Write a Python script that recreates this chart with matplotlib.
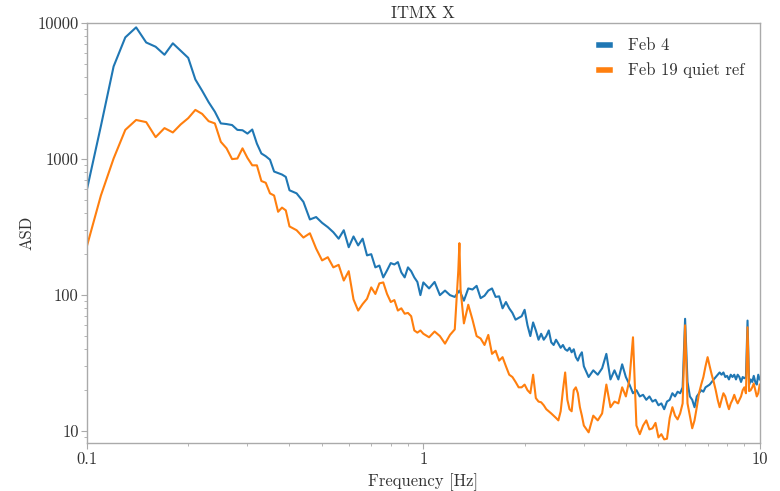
import matplotlib
matplotlib.use("Agg")
import matplotlib.pyplot as plt
from matplotlib.ticker import FixedLocator, FixedFormatter, LogLocator, NullFormatter

# frequency grid [Hz]
freq = [0.10, 0.11, 0.12, 0.13, 0.14, 0.15, 0.16, 0.17, 0.18, 0.19,
        0.20, 0.21, 0.22, 0.23, 0.24, 0.25, 0.26, 0.27, 0.28, 0.29,
        0.30, 0.31, 0.32, 0.33, 0.34, 0.35, 0.36, 0.37, 0.38, 0.39,
        0.40, 0.42, 0.44, 0.46, 0.48, 0.50, 0.52, 0.54, 0.56, 0.58,
        0.60, 0.62, 0.64, 0.66, 0.68, 0.70, 0.72, 0.74, 0.76, 0.78,
        0.80, 0.82, 0.84, 0.86, 0.88, 0.90, 0.92, 0.94, 0.96, 0.98,
        1.00, 1.04, 1.08, 1.12, 1.16, 1.20, 1.24, 1.27, 1.28, 1.29,
        1.32, 1.36, 1.40, 1.44, 1.48, 1.52, 1.56, 1.60, 1.64, 1.68,
        1.72, 1.76, 1.80, 1.84, 1.88, 1.92, 1.96, 2.00, 2.04, 2.08,
        2.12, 2.16, 2.20, 2.24, 2.28, 2.32, 2.36, 2.40, 2.44, 2.48,
        2.52, 2.56, 2.60, 2.64, 2.68, 2.72, 2.76, 2.80, 2.84, 2.88,
        2.92, 2.96, 3.0, 3.1, 3.2, 3.3, 3.4, 3.5, 3.6, 3.7,
        3.8, 3.9, 4.0, 4.1, 4.2, 4.3, 4.4, 4.5, 4.6, 4.7,
        4.8, 4.9, 5.0, 5.1, 5.2, 5.3, 5.4, 5.5, 5.6, 5.7,
        5.8, 5.9, 6.0, 6.1, 6.2, 6.3, 6.4, 6.5, 6.6, 6.7,
        6.8, 6.9, 7.0, 7.1, 7.2, 7.3, 7.4, 7.5, 7.6, 7.7,
        7.8, 7.9, 8.0, 8.1, 8.2, 8.3, 8.4, 8.5, 8.6, 8.7,
        8.8, 8.9, 9.0, 9.1, 9.2, 9.3, 9.4, 9.5, 9.6, 9.7,
        9.8, 9.9, 10.0]

feb4 = [600, 1750, 4800, 7850, 9300, 7200, 6700, 5850, 7100, 6250,
        5550, 3850, 3180, 2620, 2230, 1830, 1810, 1780, 1640, 1630,
        1540, 1650, 1300, 1100, 1050, 990, 810, 790, 770, 740,
        590, 560, 485, 360, 375, 340, 316, 290, 260, 300,
        225, 270, 232, 260, 196, 200, 160, 165, 135, 152,
        172, 168, 175, 147, 135, 160, 150, 135, 125, 100,
        124, 112, 125, 100, 108, 100, 97, 105, 108, 104,
        91, 112, 110, 117, 95, 99, 108, 112, 97, 98,
        80, 89, 80, 74, 66, 68, 70, 78, 60, 50,
        63, 55, 47, 52, 47, 50, 55, 45, 43, 47,
        44, 41, 43, 40, 39, 41, 38, 40, 35, 33,
        36, 38, 30, 25, 28, 26, 29, 37, 24, 28,
        24, 31, 25, 22, 19, 20, 18, 18.5, 17, 18,
        16.5, 17, 15.5, 16, 14.5, 16.5, 17, 19, 18, 19.5,
        19, 21, 67, 23, 18, 17, 15, 18, 19, 20,
        19.5, 21, 21.5, 22, 23, 24, 25, 26, 27, 26,
        27, 25, 25.5, 24, 26, 25, 26, 24, 26, 25,
        23, 25, 24.5, 25, 65, 22, 24, 23, 25.5, 23,
        22, 26, 24]

feb19 = [230, 540, 1010, 1640, 1940, 1870, 1450, 1690, 1570, 1800,
         2000, 2300, 2150, 1900, 1830, 1340, 1200, 1000, 1010, 1200,
         1020, 900, 900, 690, 670, 560, 540, 410, 440, 420,
         320, 300, 265, 285, 220, 180, 190, 160, 167, 128,
         150, 93, 77, 86, 94, 114, 102, 122, 124, 102,
         89, 92, 77, 80, 73, 74, 70, 55, 53, 55,
         52, 49, 54, 50, 44, 51, 56, 150, 241, 110,
         62, 85, 66, 50, 48, 43, 51, 37, 39, 33,
         35, 30, 26, 25, 23, 21, 21, 22, 20, 19,
         26, 17.5, 16.5, 16.3, 15.5, 14.5, 14, 13.5, 13, 12.5,
         12, 14, 20, 27, 17, 14.5, 14, 20, 21, 19,
         15, 13, 11, 9.8, 13, 12, 13.5, 22, 15, 16.5,
         16, 21, 18, 24, 49, 11, 9.5, 11, 12, 10.3,
         10.5, 11.5, 9, 9.5, 8.7, 8.8, 12.5, 15, 13, 12.2,
         13.5, 16, 60, 16, 13, 10.5, 12, 15, 19, 22,
         25, 30, 35, 30, 26, 23, 20, 17, 15, 17,
         19, 18, 16, 14.5, 16, 17, 18.5, 17, 16, 17,
         18, 20, 21, 19, 58, 19.7, 20, 21, 22.4, 20,
         18, 19, 22]

series_labels = ["Feb 4", "Feb 19 quiet ref"]
y_ticks = [10, 100, 1000, 10000]
x_ticks = [0.1, 1, 10]

plt.rcParams["font.family"] = ["cmr10", "DejaVu Serif"]
plt.rcParams["mathtext.fontset"] = "cm"
plt.rcParams["axes.formatter.use_mathtext"] = True
plt.rcParams["font.size"] = 12

grey = "#aaaaaa"
text_col = "#333333"
fig = plt.figure(figsize=(7.8, 4.91), dpi=100)
ax = fig.add_axes([0.1115, 0.098, 0.8625, 0.855])

ax.plot(freq, feb4, color="#1f77b4", linewidth=1.5, label=series_labels[0])
ax.plot(freq, feb19, color="#ff7f0e", linewidth=1.5, label=series_labels[1])

ax.set_xscale("log")
ax.set_yscale("log")
ax.set_xlim(0.1, 10)
ax.set_ylim(8.2, 10000)

ax.xaxis.set_major_locator(FixedLocator(x_ticks))
ax.xaxis.set_major_formatter(FixedFormatter([str(v) for v in x_ticks]))
ax.xaxis.set_minor_locator(LogLocator(base=10, subs=range(2, 10)))
ax.xaxis.set_minor_formatter(NullFormatter())
ax.yaxis.set_major_locator(FixedLocator(y_ticks))
ax.yaxis.set_major_formatter(FixedFormatter([str(v) for v in y_ticks]))
ax.yaxis.set_minor_locator(LogLocator(base=10, subs=range(2, 10)))
ax.yaxis.set_minor_formatter(NullFormatter())

for s in ax.spines.values():
    s.set_color(grey)
    s.set_linewidth(1.0)
ax.tick_params(which="both", direction="out", color=grey, labelcolor=text_col, pad=2)
ax.tick_params(which="major", length=4)
ax.tick_params(which="minor", length=2.5)

ax.set_title("ITMX X", fontsize=12, color=text_col, pad=4)
ax.set_xlabel("Frequency [Hz]", color=text_col, labelpad=5)
ax.set_ylabel("ASD", color=text_col, labelpad=2)

leg = ax.legend(loc="upper right", frameon=False, handlelength=0.65,
                handletextpad=1.1, borderaxespad=0.5, labelspacing=0.55)
for h in leg.get_lines():
    h.set_linewidth(4)
for t in leg.get_texts():
    t.set_color(text_col)

fig.savefig("out.png", dpi=100)
